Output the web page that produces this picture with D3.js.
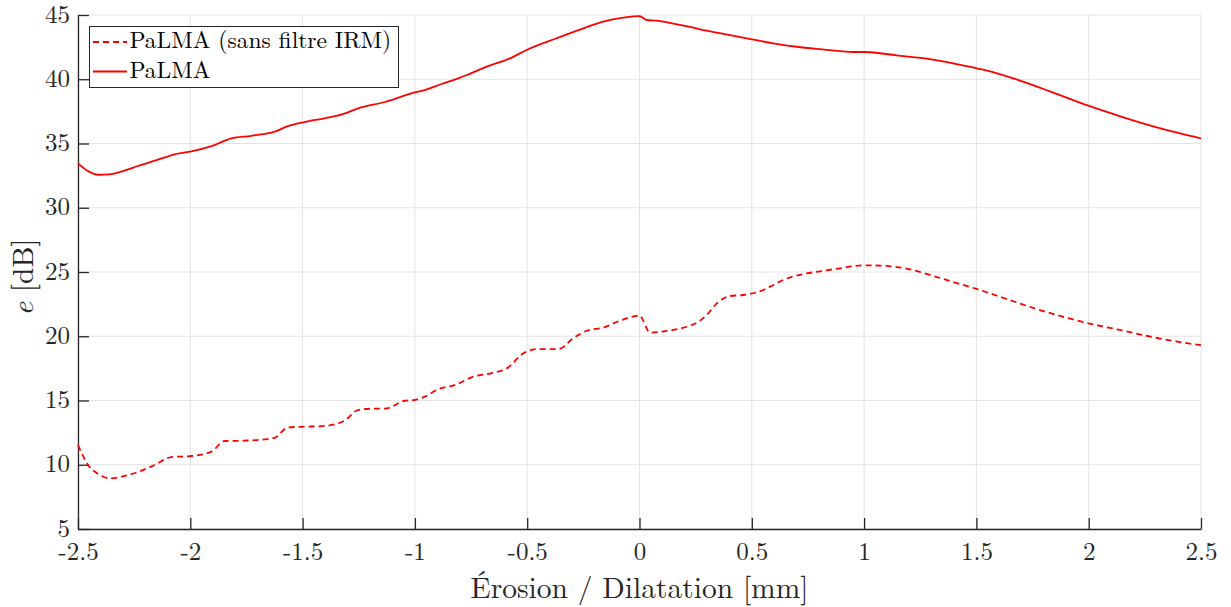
<!DOCTYPE html>
<html>
<head>
<meta charset="utf-8">
<script src="https://cdn.jsdelivr.net/npm/d3@7"></script>
<style>
  html, body { margin: 0; padding: 0; background: #fff; }
  svg { display: block; }
</style>
</head>
<body>
<svg id="chart" width="1231" height="607"></svg>
<script>
// ---- data ----
const xTicks = [-2.5, -2, -1.5, -1, -0.5, 0, 0.5, 1, 1.5, 2, 2.5];
const xTickLabels = ["-2.5", "-2", "-1.5", "-1", "-0.5", "0", "0.5", "1", "1.5", "2", "2.5"];
const yTicks = [5, 10, 15, 20, 25, 30, 35, 40, 45];
const yTickLabels = ["5", "10", "15", "20", "25", "30", "35", "40", "45"];

const seriesNames = ["PaLMA (sans filtre IRM)", "PaLMA"];

const xSolid = [-2.5, -2.46, -2.41, -2.36, -2.3, -2.233, -2.15, -2.07, -1.995, -1.906, -1.817, -1.728,
  -1.624, -1.565, -1.491, -1.402, -1.328, -1.253, -1.134, -1.016, -0.956, -0.882, -0.808, -0.769,
  -0.68, -0.577, -0.502, -0.369, -0.25, -0.161, -0.072, 0, 0.032, 0.077, 0.15, 0.225, 0.299, 0.403,
  0.5, 0.596, 0.7, 0.804, 0.952, 1.004, 1.145, 1.279, 1.397, 1.501, 1.561, 1.694, 1.842, 1.998,
  2.154, 2.303, 2.5];
const ySolid = [33.45, 32.9, 32.57, 32.6, 32.85, 33.25, 33.7, 34.16, 34.39, 34.8, 35.4, 35.6,
  35.92, 36.36, 36.67, 36.96, 37.24, 37.74, 38.23, 38.9, 39.16, 39.63, 40.07, 40.33,
  40.98, 41.63, 42.28, 43.19, 43.96, 44.48, 44.79, 44.92, 44.61, 44.56, 44.33, 44.07, 43.78, 43.44,
  43.11, 42.8, 42.53, 42.34, 42.12, 42.12, 41.86, 41.6, 41.24, 40.85, 40.62, 39.89, 38.96, 37.94,
  37.04, 36.26, 35.4];

const xDashed = [-2.5, -2.455, -2.41, -2.359, -2.307, -2.233, -2.159, -2.085, -1.995, -1.906, -1.847,
  -1.773, -1.669, -1.624, -1.565, -1.491, -1.402, -1.313, -1.253, -1.194, -1.134, -1.045, -1.001,
  -0.956, -0.897, -0.823, -0.74, -0.651, -0.591, -0.517, -0.457, -0.361, -0.295, -0.235, -0.161,
  -0.087, 0, 0.047, 0.121, 0.21, 0.255, 0.299, 0.344, 0.403, 0.462, 0.551, 0.596, 0.64, 0.729,
  0.804, 0.893, 0.997, 1.1, 1.204, 1.293, 1.397, 1.501, 1.635, 1.768, 1.902, 1.998, 2.139, 2.288,
  2.407, 2.5];
const yDashed = [11.54, 9.98, 9.28, 8.94, 9.07, 9.44, 9.98, 10.6, 10.68, 11.02, 11.85,
  11.87, 11.98, 12.1, 12.91, 12.96, 13.02, 13.43, 14.26, 14.36, 14.36, 14.98, 15.04,
  15.3, 15.87, 16.2, 16.85, 17.16, 17.5, 18.67, 19.0, 19.0, 19.84, 20.43, 20.67,
  21.21, 21.6, 20.28, 20.41, 20.74, 21.05, 21.65, 22.56, 23.13, 23.21, 23.6, 23.99, 24.38, 24.84,
  25.05, 25.29, 25.52, 25.47, 25.21, 24.77, 24.22, 23.68, 22.9, 22.12, 21.44, 21.01, 20.49, 19.92,
  19.55, 19.3];

// ---- layout ----
const FONT = '"Latin Modern Roman", "CMU Serif", "Liberation Serif", serif';
const svg = d3.select("#chart");
const margin = { left: 78, right: 30, top: 15, bottom: 78 };
const W = 1231, H = 607;
const x = d3.scaleLinear().domain([-2.5, 2.5]).range([margin.left, W - margin.right]);
const y = d3.scaleLinear().domain([5, 45]).range([H - margin.bottom, margin.top]);
const axisColor = "#262626";
const gridColor = "#e3e3e3";
const red = "#ff0000";

// grid
svg.append("g").selectAll("line").data(xTicks).join("line")
  .attr("x1", d => x(d)).attr("x2", d => x(d))
  .attr("y1", y(5)).attr("y2", y(45))
  .attr("stroke", gridColor).attr("stroke-width", 1);
svg.append("g").selectAll("line").data(yTicks).join("line")
  .attr("x1", x(-2.5)).attr("x2", x(2.5))
  .attr("y1", d => y(d)).attr("y2", d => y(d))
  .attr("stroke", gridColor).attr("stroke-width", 1);

// axes
const xAxis = d3.axisBottom(x).tickValues(xTicks)
  .tickFormat((d, i) => xTickLabels[i]).tickSizeInner(-11).tickSizeOuter(0).tickPadding(8);
const yAxis = d3.axisLeft(y).tickValues(yTicks)
  .tickFormat((d, i) => yTickLabels[i]).tickSizeInner(-11).tickSizeOuter(0).tickPadding(8);

const gx = svg.append("g").attr("transform", `translate(0,${y(5)})`).call(xAxis);
const gy = svg.append("g").attr("transform", `translate(${x(-2.5)},0)`).call(yAxis);
[gx, gy].forEach(g => {
  g.attr("font-family", null).attr("font-size", null);
  g.select(".domain").attr("stroke", axisColor).attr("stroke-width", 1.3);
  g.selectAll(".tick line").attr("stroke", axisColor).attr("stroke-width", 1.3);
  g.selectAll(".tick text").attr("fill", axisColor)
    .style("font-family", FONT).style("font-size", "25px");
});
gy.selectAll(".tick text").attr("dy", "0.28em");
gx.selectAll(".tick text").attr("y", 31).attr("dy", 0);

// lines
const line = d3.line().x(d => x(d[0])).y(d => y(d[1])).curve(d3.curveMonotoneX);
const dashedData = xDashed.map((v, i) => [v, yDashed[i]]);
const solidData = xSolid.map((v, i) => [v, ySolid[i]]);

const plot = svg.append("g");
plot.append("path").datum(dashedData).attr("d", line)
  .attr("fill", "none").attr("stroke", red).attr("stroke-width", 1.8)
  .attr("stroke-dasharray", "6,4");
plot.append("path").datum(solidData).attr("d", line)
  .attr("fill", "none").attr("stroke", red).attr("stroke-width", 1.8);

// axis labels
svg.append("text")
  .attr("x", (x(-2.5) + x(2.5)) / 2).attr("y", 598)
  .attr("text-anchor", "middle")
  .attr("fill", axisColor)
  .style("font-family", FONT).style("font-size", "29.5px")
  .text("Érosion / Dilatation [mm]");

const yl = svg.append("text")
  .attr("transform", `translate(33,${(y(5) + y(45)) / 2 + 5}) rotate(-90)`)
  .attr("text-anchor", "middle")
  .attr("fill", axisColor)
  .style("font-family", FONT).style("font-size", "29.5px");
yl.append("tspan").style("font-style", "italic").text("e");
yl.append("tspan").text(" [dB]");

// legend
const leg = svg.append("g");
leg.append("rect").attr("x", 89.5).attr("y", 26.5).attr("width", 309).attr("height", 61)
  .attr("fill", "#fff").attr("stroke", axisColor).attr("stroke-width", 1);
const legRows = [
  { name: seriesNames[0], dash: "6,4", cy: 42, base: 48 },
  { name: seriesNames[1], dash: null, cy: 71.5, base: 78 }
];
legRows.forEach(r => {
  const l = leg.append("line").attr("x1", 93).attr("x2", 127)
    .attr("y1", r.cy).attr("y2", r.cy)
    .attr("stroke", red).attr("stroke-width", 1.8);
  if (r.dash) l.attr("stroke-dasharray", r.dash);
  leg.append("text").attr("x", 129.5).attr("y", r.base)
    .attr("fill", "#000")
    .style("font-family", FONT).style("font-size", "23.5px")
    .text(r.name);
});
</script>
</body>
</html>
